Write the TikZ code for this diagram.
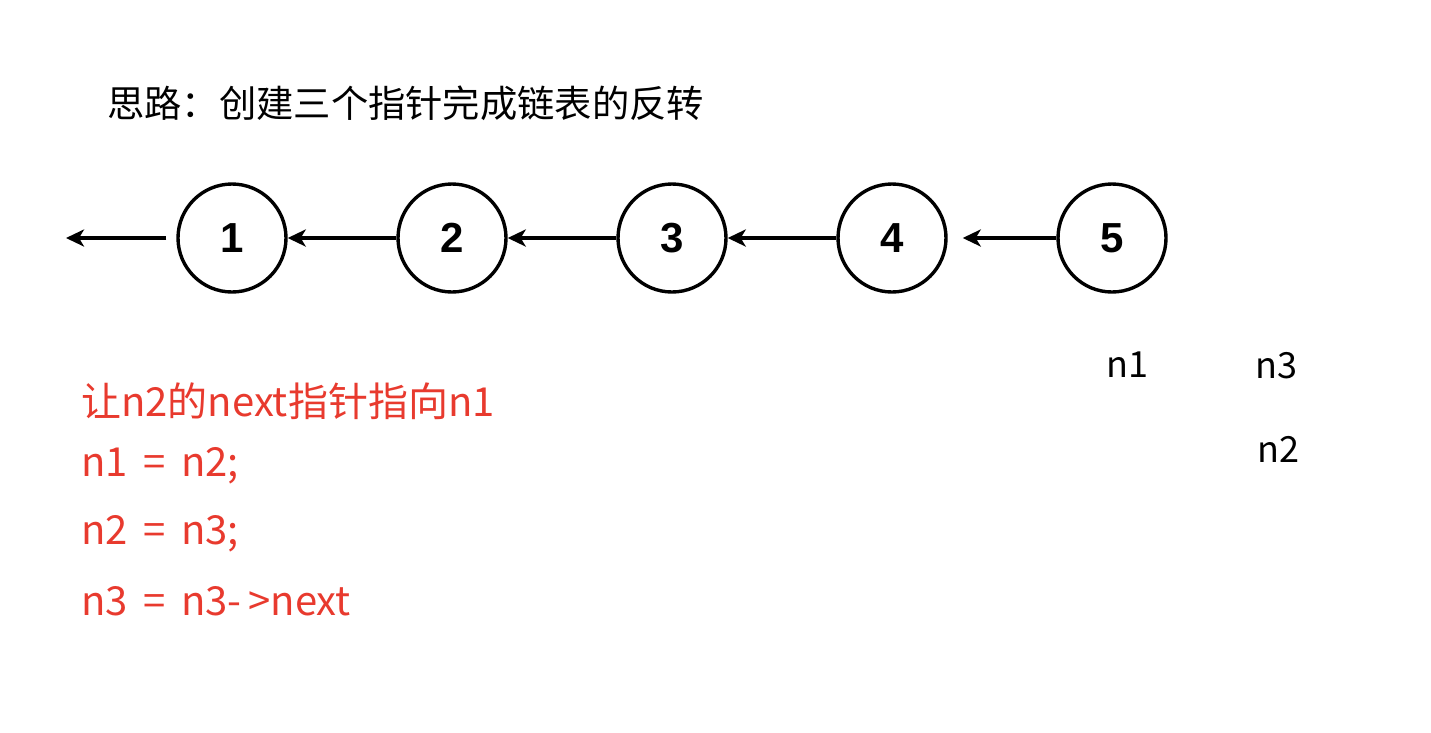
\documentclass[tikz,border=0pt]{standalone}
\usepackage{fontspec}
\setmainfont{Noto Sans CJK SC}
\newfontfamily\digitfont{Liberation Sans}
\usetikzlibrary{arrows.meta}
\definecolor{notered}{RGB}{232,58,46}

\begin{document}
\begin{tikzpicture}[
  x=1pt, y=-1pt,
  listnode/.style={circle, draw, line width=3.4pt, minimum size=108pt, inner sep=0pt,
    font=\digitfont\bfseries\fontsize{42}{42}\selectfont},
  ptr/.style={-{Stealth[length=18pt, width=17pt, inset=5pt]}, line width=3.2pt},
  title/.style={anchor=west, inner sep=0pt, font=\fontsize{37.3}{37.3}\selectfont},
  code/.style={anchor=west, inner sep=0pt, text=notered, font=\fontsize{40}{40}\selectfont},
  tag/.style={inner sep=0pt, font=\fontsize{36}{36}\selectfont}
]
\useasboundingbox (0,0) rectangle (1431,732);

% title
\node[title] (idea) at (107,103) {思路：创建三个指针完成链表的反转};

% list nodes
\node[listnode] (one)   at (232,238)  {1};
\node[listnode] (two)   at (452,238)  {2};
\node[listnode] (three) at (672,238)  {3};
\node[listnode] (four)  at (892,238)  {4};
\node[listnode] (five)  at (1112,238) {5};
\coordinate (nil) at (66,238);

% reversed links
\draw[ptr, shorten <=10pt] (one) -- (nil);
\draw[ptr] (two) -- (one);
\draw[ptr] (three) -- (two);
\draw[ptr] (four) -- (three);
\draw[ptr, shorten >=15pt] (five) -- (four);

% pointer names
\node[tag] (pone)   at (1127,365) {n1};
\node[tag] (pthree) at (1276,366) {n3};
\node[tag] (ptwo)   at (1278,449) {n2};

% steps
\node[code] (step0) at (81,401) {让n2的next指针指向n1};
\node[code] (step1) at (81,466) {n1 \,=\, n2;};
\node[code] (step2) at (81,534) {n2 \,=\, n3;};
\node[code] (step3) at (81,601) {n3 \,=\, n3-\,>next};

\end{tikzpicture}
\end{document}
